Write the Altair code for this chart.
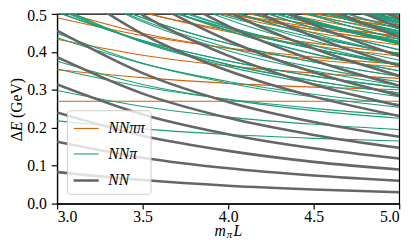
import altair as alt
import pandas as pd

x_grid = [3.0, 3.5, 4.0, 4.5, 5.0]

# NN levels (GeV), one list per curve, values at x_grid
nn_levels = [
    [0.083, 0.062, 0.047, 0.037, 0.030],
    [0.163, 0.121, 0.093, 0.074, 0.060],
    [0.240, 0.179, 0.139, 0.110, 0.090],
    [0.314, 0.235, 0.183, 0.146, 0.119],
    [0.386, 0.290, 0.226, 0.181, 0.147],
    [0.456, 0.344, 0.268, 0.215, 0.176],
    [0.589, 0.447, 0.350, 0.282, 0.231],
    [0.653, 0.497, 0.390, 0.314, 0.258],
    [0.715, 0.546, 0.430, 0.346, 0.285],
    [0.776, 0.594, 0.468, 0.378, 0.311],
    [0.836, 0.641, 0.506, 0.409, 0.337],
    [0.894, 0.687, 0.544, 0.440, 0.363],
    [0.951, 0.733, 0.581, 0.471, 0.389],
    [1.062, 0.821, 0.653, 0.531, 0.439],
    [1.116, 0.864, 0.688, 0.560, 0.464],
    [1.169, 0.907, 0.723, 0.589, 0.488],
]

# NN pi levels (GeV)
npi_levels = [
    [0.218, 0.197, 0.182, 0.172, 0.165],
    [0.298, 0.256, 0.228, 0.209, 0.195],
    [0.375, 0.314, 0.274, 0.245, 0.225],
    [0.449, 0.370, 0.318, 0.281, 0.254],
    [0.521, 0.425, 0.361, 0.316, 0.282],
    [0.591, 0.479, 0.403, 0.350, 0.311],
    [0.724, 0.582, 0.485, 0.417, 0.366],
    [0.788, 0.632, 0.525, 0.449, 0.393],
    [0.850, 0.681, 0.565, 0.481, 0.420],
    [0.911, 0.729, 0.603, 0.513, 0.446],
    [0.971, 0.776, 0.641, 0.544, 0.472],
    [1.029, 0.822, 0.679, 0.575, 0.498],
    [0.355, 0.308, 0.275, 0.251, 0.232],
    [0.437, 0.369, 0.322, 0.288, 0.262],
    [0.515, 0.428, 0.367, 0.324, 0.292],
    [0.512, 0.426, 0.366, 0.323, 0.291],
    [0.663, 0.540, 0.456, 0.395, 0.350],
    [0.588, 0.483, 0.411, 0.359, 0.321],
    [0.734, 0.594, 0.498, 0.429, 0.378],
    [0.661, 0.539, 0.455, 0.394, 0.350],
    [0.934, 0.750, 0.622, 0.530, 0.461],
    [0.997, 0.799, 0.661, 0.562, 0.488],
    [0.801, 0.646, 0.540, 0.463, 0.406],
    [0.867, 0.698, 0.581, 0.496, 0.434],
    [0.797, 0.644, 0.538, 0.462, 0.405],
    [0.864, 0.696, 0.579, 0.495, 0.433],
    [0.929, 0.746, 0.620, 0.528, 0.460],
    [0.504, 0.429, 0.376, 0.336, 0.305],
    [0.505, 0.430, 0.376, 0.336, 0.306],
    [0.584, 0.489, 0.422, 0.373, 0.335],
    [0.585, 0.490, 0.422, 0.373, 0.336],
    [0.657, 0.544, 0.465, 0.408, 0.364],
    [0.661, 0.547, 0.467, 0.409, 0.365],
    [0.731, 0.601, 0.510, 0.443, 0.393],
    [0.735, 0.603, 0.511, 0.444, 0.394],
    [0.798, 0.653, 0.551, 0.477, 0.421],
    [0.807, 0.658, 0.554, 0.479, 0.423],
    [0.808, 0.659, 0.555, 0.479, 0.423],
    [0.868, 0.706, 0.593, 0.511, 0.449],
    [0.878, 0.712, 0.597, 0.514, 0.451],
    [0.937, 0.759, 0.635, 0.545, 0.477],
    [0.944, 0.764, 0.638, 0.547, 0.479],
    [0.628, 0.530, 0.461, 0.408, 0.368],
    [0.631, 0.532, 0.462, 0.409, 0.369],
    [0.777, 0.644, 0.549, 0.479, 0.426],
    [0.783, 0.647, 0.551, 0.481, 0.427],
    [0.785, 0.648, 0.552, 0.481, 0.428],
    [0.916, 0.750, 0.633, 0.548, 0.483],
    [0.922, 0.754, 0.636, 0.549, 0.484],
    [0.929, 0.758, 0.638, 0.551, 0.485],
    [0.665, 0.565, 0.492, 0.438, 0.396],
    [0.739, 0.621, 0.536, 0.473, 0.425],
    [0.745, 0.624, 0.539, 0.475, 0.426],
    [0.816, 0.679, 0.582, 0.509, 0.454],
    [0.821, 0.682, 0.584, 0.511, 0.455],
    [0.891, 0.736, 0.626, 0.545, 0.483],
    [0.770, 0.650, 0.563, 0.498, 0.448],
    [0.840, 0.704, 0.606, 0.533, 0.476],
    [0.845, 0.707, 0.608, 0.534, 0.477],
    [0.848, 0.709, 0.609, 0.535, 0.478],
    [0.867, 0.729, 0.630, 0.555, 0.497],
    [0.869, 0.730, 0.630, 0.555, 0.497],
]

# NN pi pi levels (GeV)
nnpipi_levels = [
    [0.270, 0.270, 0.270, 0.270, 0.270],
    [0.353, 0.332, 0.317, 0.307, 0.300],
    [0.433, 0.391, 0.363, 0.344, 0.330],
    [0.510, 0.449, 0.409, 0.380, 0.360],
    [0.584, 0.505, 0.453, 0.416, 0.389],
    [0.656, 0.560, 0.496, 0.451, 0.418],
    [0.726, 0.614, 0.538, 0.485, 0.446],
    [0.490, 0.443, 0.410, 0.386, 0.367],
    [0.572, 0.504, 0.457, 0.423, 0.397],
    [0.650, 0.563, 0.502, 0.459, 0.427],
    [0.647, 0.561, 0.501, 0.458, 0.426],
    [0.723, 0.618, 0.546, 0.494, 0.456],
    [0.796, 0.674, 0.590, 0.529, 0.485],
    [0.798, 0.675, 0.591, 0.530, 0.485],
    [0.627, 0.555, 0.503, 0.464, 0.434],
    [0.708, 0.615, 0.549, 0.501, 0.464],
    [0.710, 0.616, 0.550, 0.501, 0.464],
    [0.784, 0.673, 0.594, 0.537, 0.493],
    [0.790, 0.676, 0.596, 0.538, 0.494],
    [0.639, 0.564, 0.511, 0.471, 0.440],
    [0.640, 0.565, 0.511, 0.471, 0.441],
    [0.719, 0.624, 0.557, 0.508, 0.470],
    [0.720, 0.625, 0.557, 0.508, 0.471],
    [0.792, 0.679, 0.600, 0.543, 0.499],
    [0.796, 0.682, 0.602, 0.544, 0.500],
]

series_names = ["NNππ", "NNπ", "NN"]
series_colors = ["#d95f02", "#1b9e77", "#666666"]
series_widths = [1.1, 1.1, 2.6]
x_ticks = [3.0, 3.5, 4.0, 4.5, 5.0]
y_ticks = [0.0, 0.1, 0.2, 0.3, 0.4, 0.5]

rows = []
for name, levels in zip(series_names, [nnpipi_levels, npi_levels, nn_levels]):
    for i, lvl in enumerate(levels):
        for xv, ev in zip(x_grid, lvl):
            rows.append({"mL": xv, "dE": ev, "kind": name, "level": f"{name}-{i}"})
df = pd.DataFrame(rows)

FONT = "Liberation Serif"
W, H = 348, 193

legend = alt.Legend(
    title=None, orient="bottom-left", offset=10,
    symbolType="stroke", symbolSize=650, labelFont=FONT, labelFontSize=16,
    labelFontStyle="italic", labelColor="black", labelOffset=8,
    rowPadding=4, padding=5, strokeColor="#cccccc",
    fillColor="rgba(255,255,255,0.8)", cornerRadius=3,
)

color = alt.Color("kind:N", scale=alt.Scale(domain=series_names, range=series_colors), legend=legend)
swidth = alt.StrokeWidth("kind:N", scale=alt.Scale(type="ordinal", domain=series_names, range=series_widths),
                         legend=legend)

xenc = alt.X("mL:Q", scale=alt.Scale(domain=[3, 5], nice=False),
             axis=alt.Axis(values=x_ticks, format=".1f", title=None, grid=False,
                           tickSize=5.5, labelPadding=0))
yenc = alt.Y("dE:Q", scale=alt.Scale(domain=[0, 0.5], nice=False),
             axis=alt.Axis(values=y_ticks, format=".1f", title=None, grid=False,
                           tickSize=6, labelPadding=5,
                           labelOffset={"condition": {"test": "datum.value >= 0.49", "value": 1.5}, "value": 0}))

def lines(name):
    return alt.Chart(df).transform_filter(alt.datum.kind == name).mark_line(
        clip=True, interpolate="monotone"
    ).encode(x=xenc, y=yenc, detail="level:N", color=color, strokeWidth=swidth)

def txt(s, x, y, size=16, style="italic", angle=0):
    return alt.Chart(alt.Data(values=[{"a": 1}])).mark_text(
        text=s, font=FONT, fontSize=size, fontStyle=style, align="left",
        baseline="alphabetic", angle=angle, color="black"
    ).encode(x=alt.value(x), y=alt.value(y))

# axis titles: m_pi L and Delta E (GeV)
xt = W / 2 - 14
titles = [
    txt("m", xt, H + 33),
    txt("π", xt + 12.5, H + 35, size=11),
    txt("L", xt + 19.5, H + 33),
    txt("Δ", -36, H / 2 + 33, style="normal", angle=270),
    txt("E", -36, H / 2 + 23, angle=270),
    txt("(GeV)", -36, H / 2 + 9.5, style="normal", angle=270),
]

chart = alt.layer(lines("NNππ"), lines("NNπ"), lines("NN"), *titles).properties(
    width=W, height=H,
    padding={"left": 50, "top": 4, "right": 12, "bottom": 34},
    autosize=alt.AutoSizeParams(type="none"),
).configure_view(stroke="black", strokeWidth=1.2).configure_axis(
    domainColor="black", tickColor="black", labelColor="black",
    labelFont=FONT, labelFontSize=16, domainWidth=1.2, tickWidth=1.2,
)

chart.save("out.html", embed_options={"renderer": "svg", "actions": False})
